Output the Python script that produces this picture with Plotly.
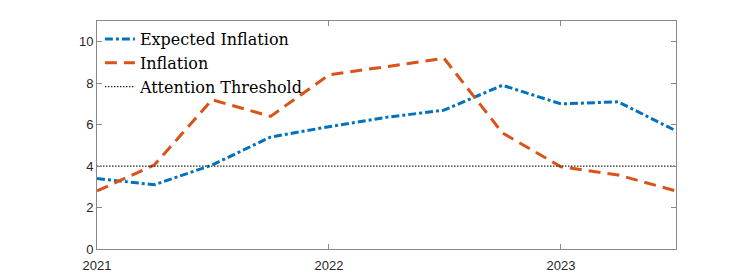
import plotly.graph_objects as go

quarters = ["2021-01-01", "2021-04-01", "2021-07-01", "2021-10-01",
            "2022-01-01", "2022-04-01", "2022-07-01", "2022-10-01",
            "2023-01-01", "2023-04-01", "2023-07-01"]
expected_inflation = [3.4, 3.1, 4.05, 5.4, 5.9, 6.35, 6.7, 7.9, 7.0, 7.1, 5.7]
inflation = [2.8, 4.05, 7.2, 6.4, 8.4, 8.8, 9.2, 5.6, 3.97, 3.57, 2.8]
threshold = 4
x_ticks = ["2021-01-01", "2022-01-01", "2023-01-01"]
x_tick_labels = ["2021", "2022", "2023"]
y_ticks = [0, 2, 4, 6, 8, 10]

fig = go.Figure()
fig.add_trace(go.Scatter(x=quarters, y=expected_inflation, mode="lines",
                         name="Expected Inflation",
                         line=dict(color="#0072BD", width=3, dash="8px,3px,3px,3px")))
fig.add_trace(go.Scatter(x=quarters, y=inflation, mode="lines",
                         name="Inflation",
                         line=dict(color="#D95319", width=3, dash="12px,7px")))
fig.add_trace(go.Scatter(x=[quarters[0], quarters[-1]], y=[threshold, threshold],
                         mode="lines", name="Attention Threshold",
                         line=dict(color="#262626", width=1.3, dash="1.5px,1.5px")))

axis_common = dict(showgrid=False, zeroline=False, showline=True, linecolor="#8a8a8a",
                   linewidth=1, mirror="ticks", ticks="inside", ticklen=5,
                   tickcolor="#8a8a8a",
                   tickfont=dict(family="Liberation Sans, Arial", size=13, color="#262626"))

fig.update_layout(
    width=747, height=280,
    margin=dict(l=89, r=79, t=13, b=39),
    paper_bgcolor="white", plot_bgcolor="white",
    showlegend=True,
    legend=dict(x=0.005, y=0.995, xanchor="left", yanchor="top",
                bgcolor="rgba(0,0,0,0)", borderwidth=0,
                font=dict(family="DejaVu Serif, Liberation Serif, serif", size=16, color="black"),
                tracegroupgap=0),
    xaxis=dict(type="date", range=["2021-01-01", "2023-07-01"],
               tickvals=x_ticks, ticktext=x_tick_labels, ticklabelstandoff=4, **axis_common),
    yaxis=dict(range=[0, 11], tickvals=y_ticks, **axis_common),
)

fig.write_html("out.html")
